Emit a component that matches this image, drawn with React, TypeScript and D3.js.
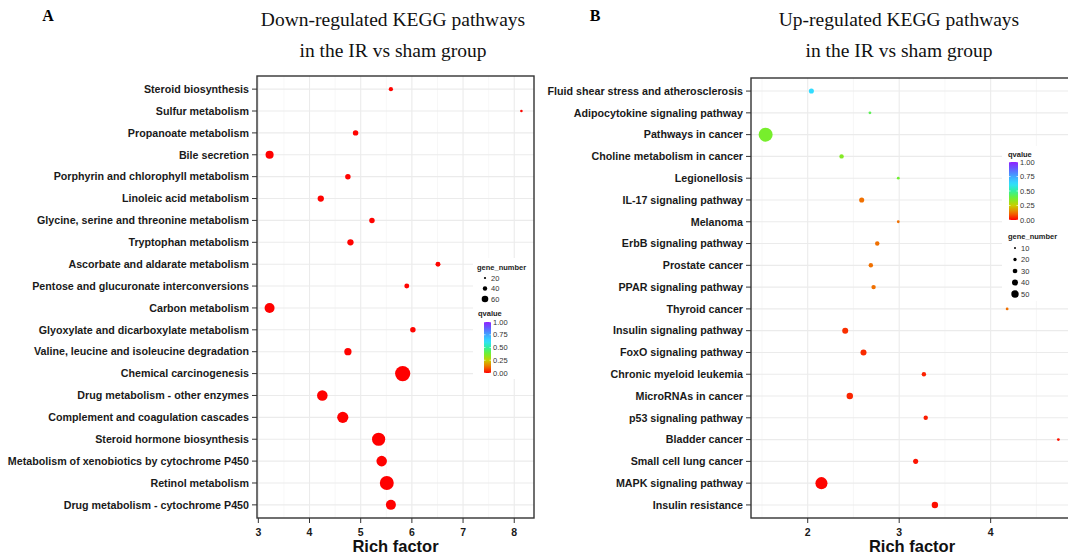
import * as d3 from 'd3'

const W = 1068
const H = 559

// panel A: down-regulated pathways
const downPathways = [
  'Steroid biosynthesis',
  'Sulfur metabolism',
  'Propanoate metabolism',
  'Bile secretion',
  'Porphyrin and chlorophyll metabolism',
  'Linoleic acid metabolism',
  'Glycine, serine and threonine metabolism',
  'Tryptophan metabolism',
  'Ascorbate and aldarate metabolism',
  'Pentose and glucuronate interconversions',
  'Carbon metabolism',
  'Glyoxylate and dicarboxylate metabolism',
  'Valine, leucine and isoleucine degradation',
  'Chemical carcinogenesis',
  'Drug metabolism - other enzymes',
  'Complement and coagulation cascades',
  'Steroid hormone biosynthesis',
  'Metabolism of xenobiotics by cytochrome P450',
  'Retinol metabolism',
  'Drug metabolism - cytochrome P450',
]
const downRich = [5.59, 8.14, 4.9, 3.22, 4.75, 4.22, 5.22, 4.8, 6.51, 5.9, 3.22, 6.02, 4.75, 5.82, 4.25, 4.65, 5.35, 5.41, 5.51, 5.59]
const downGenes = [9, 8, 11, 19, 11, 13, 11, 13, 10, 10, 28, 11, 16, 66, 31, 35, 49, 31, 55, 28]
const downQ = [0.004, 0.006, 0.003, 0.001, 0.003, 0.003, 0.003, 0.002, 0.005, 0.004, 0.001, 0.004, 0.002, 0.0, 0.001, 0.001, 0.0, 0.001, 0.0, 0.001]

// panel B: up-regulated pathways
const upPathways = [
  'Fluid shear stress and atherosclerosis',
  'Adipocytokine signaling pathway',
  'Pathways in cancer',
  'Choline metabolism in cancer',
  'Legionellosis',
  'IL-17 signaling pathway',
  'Melanoma',
  'ErbB signaling pathway',
  'Prostate cancer',
  'PPAR signaling pathway',
  'Thyroid cancer',
  'Insulin signaling pathway',
  'FoxO signaling pathway',
  'Chronic myeloid leukemia',
  'MicroRNAs in cancer',
  'p53 signaling pathway',
  'Bladder cancer',
  'Small cell lung cancer',
  'MAPK signaling pathway',
  'Insulin resistance',
]
const upRich = [2.04, 2.68, 1.54, 2.37, 2.99, 2.59, 2.99, 2.76, 2.69, 2.72, 4.18, 2.41, 2.61, 3.27, 2.46, 3.29, 4.74, 3.18, 2.15, 3.39]
const upGenes = [9, 7, 55, 8, 7, 9, 7, 8, 8, 8, 7, 11, 11, 8, 12, 8, 7, 9, 40, 12]
const upQ = [0.63, 0.42, 0.37, 0.35, 0.38, 0.12, 0.12, 0.12, 0.12, 0.12, 0.12, 0.05, 0.045, 0.035, 0.04, 0.03, 0.02, 0.02, 0.005, 0.015]

const downSizeBreaks = [20, 40, 60]
const upSizeBreaks = [10, 20, 30, 40, 50]
const qBreaks = [1, 0.75, 0.5, 0.25, 0]

const qStops = [0, 0.12, 0.25, 0.38, 0.5, 0.62, 0.75, 0.88, 1]
const qColors = ['#FF0000', '#F07000', '#C8D000', '#70F030', '#30F0A0', '#30E0FF', '#40A8FF', '#6060FF', '#9020FF']
const colorScale = d3.scaleLinear<string>().domain(qStops).range(qColors).interpolate(d3.interpolateRgb)

const SANS = 'Liberation Sans, Arial, Helvetica, sans-serif'
const SERIF = 'Liberation Serif, Times New Roman, serif'

const ColorBar = ({ id, x, y, w, h }) => {
  const yq = d3.scaleLinear().domain([0, 1]).range([y + h, y])
  return (
    <g>
      <defs>
        <linearGradient id={id} x1="0" y1="1" x2="0" y2="0">
          {d3.range(0, 1.0001, 0.05).map((t) => (
            <stop key={t} offset={t} stopColor={colorScale(t)} />
          ))}
        </linearGradient>
      </defs>
      <rect x={x} y={y} width={w} height={h} fill={`url(#${id})`} />
      {qBreaks.map((b) => (
        <g key={b}>
          <line x1={x} x2={x + 1.5} y1={yq(b)} y2={yq(b)} stroke="white" strokeWidth={0.6} />
          <line x1={x + w - 1.5} x2={x + w} y1={yq(b)} y2={yq(b)} stroke="white" strokeWidth={0.6} />
          <text x={x + w + 2} y={yq(b)} dy="0.35em" fontSize={7.5} fill="#333" fontFamily={SANS}>
            {b.toFixed(2)}
          </text>
        </g>
      ))}
    </g>
  )
}

const SizeKey = ({ x, y, breaks, rScale, gap }) => (
  <g>
    {breaks.map((b, i) => (
      <g key={b}>
        <circle cx={x} cy={y + i * gap} r={rScale(b)} fill="black" />
        <text x={x + 6} y={y + i * gap} dy="0.35em" fontSize={7.5} fill="#333" fontFamily={SANS}>
          {b}
        </text>
      </g>
    ))}
  </g>
)

const Panel = ({ box, cats, rich, genes, q, sizeRange, tickCount, title, titleX, letter, letterX, children }) => {
  const [x0, x1, y0, y1] = box
  const [lo, hi] = d3.extent(rich)
  const pad = (hi - lo) * 0.05
  const x = d3.scaleLinear().domain([lo - pad, hi + pad]).range([x0, x1])
  const y = d3.scalePoint().domain(cats).range([y0, y1]).padding(0.6)
  const gMin = d3.min(genes)
  const gMax = d3.max(genes)
  const r = d3.scaleSqrt().domain([0, gMax - gMin]).range(sizeRange)
  const ticks = x.ticks(tickCount)
  const step = ticks[1] - ticks[0]
  const [d0, d1] = x.domain()
  const minor = Array.from(new Set(ticks.flatMap((t) => [t - step / 2, t + step / 2]))).filter((m) => m > d0 && m < d1)

  return (
    <g>
      <text x={letterX} y={21} fontFamily={SERIF} fontWeight="bold" fontSize={16} textAnchor="middle">
        {letter}
      </text>
      {title.map((t, i) => (
        <text key={t} x={titleX} y={26 + i * 31} fontFamily={SERIF} fontSize={19.5} textAnchor="middle" fill="#111">
          {t}
        </text>
      ))}
      <rect x={x0} y={y0} width={x1 - x0} height={y1 - y0} fill="white" />
      {minor.map((m) => (
        <line key={m} x1={x(m)} x2={x(m)} y1={y0} y2={y1} stroke="#F3F3F3" strokeWidth={0.7} />
      ))}
      {ticks.map((t) => (
        <line key={t} x1={x(t)} x2={x(t)} y1={y0} y2={y1} stroke="#EBEBEB" strokeWidth={1.1} />
      ))}
      {cats.map((c) => (
        <line key={c} x1={x0} x2={x1} y1={y(c)} y2={y(c)} stroke="#EBEBEB" strokeWidth={1.1} />
      ))}
      {cats.map((c, i) => (
        <circle key={c} cx={x(rich[i])} cy={y(c)} r={r(genes[i] - gMin)} fill={colorScale(q[i])} />
      ))}
      {children}
      <rect x={x0} y={y0} width={x1 - x0} height={y1 - y0} fill="none" stroke="#333" strokeWidth={1.4} />
      {cats.map((c) => (
        <g key={c}>
          <line x1={x0 - 5} x2={x0} y1={y(c)} y2={y(c)} stroke="#333" strokeWidth={1} />
          <text x={x0 - 8} y={y(c)} dy="0.35em" textAnchor="end" fontFamily={SANS} fontWeight="bold" fontSize={10.7} fill="#1a1a1a">
            {c}
          </text>
        </g>
      ))}
      {ticks.map((t) => (
        <g key={t}>
          <line x1={x(t)} x2={x(t)} y1={y1} y2={y1 + 5} stroke="#333" strokeWidth={1} />
          <text x={x(t)} y={y1 + 14} dy="0.35em" textAnchor="middle" fontFamily={SANS} fontWeight="bold" fontSize={10.5} fill="#1a1a1a">
            {t}
          </text>
        </g>
      ))}
      <text x={(x0 + x1) / 2} y={y1 + 34} textAnchor="middle" fontFamily={SANS} fontWeight="bold" fontSize={16.5} fill="#111">
        Rich factor
      </text>
    </g>
  )
}

export default function App() {
  const downKey = d3.scaleLinear().domain([0, 60]).range([0, 3.3])
  const upKey = d3.scaleLinear().domain([0, 50]).range([0.3, 3.7])
  return (
    <svg width={W} height={H} style={{ position: 'absolute', left: 0, top: 0, background: 'white' }}>
      <rect width={W} height={H} fill="white" />
      <Panel
        box={[257, 534, 76, 518]}
        cats={downPathways}
        rich={downRich}
        genes={downGenes}
        q={downQ}
        sizeRange={[1.3, 7.6]}
        tickCount={6}
        title={['Down-regulated KEGG pathways', 'in the IR vs sham group']}
        titleX={393}
        letter="A"
        letterX={48}
      >
        <rect x={473} y={258} width={60} height={121} fill="white" />
        <text x={477} y={267} dy="0.35em" fontSize={7.5} fontWeight="bold" fill="#222" fontFamily={SANS}>
          gene_number
        </text>
        <SizeKey x={485} y={278} breaks={downSizeBreaks} rScale={downKey} gap={10.5} />
        <text x={478} y={313} dy="0.35em" fontSize={7.5} fontWeight="bold" fill="#222" fontFamily={SANS}>
          qvalue
        </text>
        <ColorBar id="qbarA" x={484} y={322} w={7} h={51} />
      </Panel>
      <Panel
        box={[751, 1073, 78, 518]}
        cats={upPathways}
        rich={upRich}
        genes={upGenes}
        q={upQ}
        sizeRange={[1.4, 7.0]}
        tickCount={4}
        title={['Up-regulated KEGG pathways', 'in the IR vs sham group']}
        titleX={899}
        letter="B"
        letterX={595}
      >
        <rect x={1002} y={146} width={70} height={155} fill="white" />
        <text x={1008} y={154} dy="0.35em" fontSize={7.5} fontWeight="bold" fill="#222" fontFamily={SANS}>
          qvalue
        </text>
        <ColorBar id="qbarB" x={1009} y={162} w={9} h={58} />
        <text x={1008} y={236} dy="0.35em" fontSize={7.5} fontWeight="bold" fill="#222" fontFamily={SANS}>
          gene_number
        </text>
        <SizeKey x={1015} y={248} breaks={upSizeBreaks} rScale={upKey} gap={11.5} />
      </Panel>
    </svg>
  )
}
